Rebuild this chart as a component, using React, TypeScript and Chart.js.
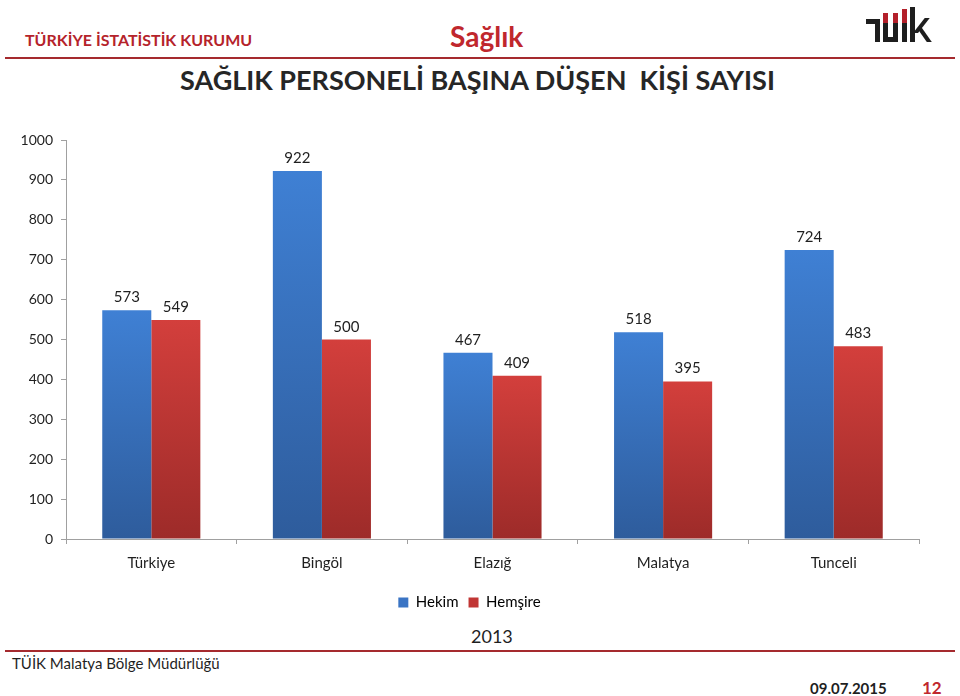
import React, { useEffect, useRef } from "react";
import { Chart, registerables } from "chart.js";

Chart.register(...registerables);

const categories = ["Türkiye", "Bingöl", "Elazığ", "Malatya", "Tunceli"];
const hekim = [573, 922, 467, 518, 724];
const hemsire = [549, 500, 409, 395, 483];
const seriesNames = ["Hekim", "Hemşire"];
const yTicks = [0, 100, 200, 300, 400, 500, 600, 700, 800, 900, 1000];

const FONT = "Lato, 'Open Sans', sans-serif";

function gradientFor(top: string, bottom: string) {
  return (ctx: any) => {
    const chart = ctx.chart;
    const y = chart.scales && chart.scales.y;
    if (!chart.chartArea || !y || ctx.raw == null) return top;
    const yTop = y.getPixelForValue(ctx.raw);
    const yBot = y.getPixelForValue(0);
    if (!isFinite(yTop) || !isFinite(yBot) || yTop === yBot) return top;
    const g = chart.ctx.createLinearGradient(0, yTop, 0, yBot);
    g.addColorStop(0, top);
    g.addColorStop(1, bottom);
    return g;
  };
}

const valueLabels = {
  id: "valueLabels",
  afterDatasetsDraw(chart: any) {
    const c = chart.ctx;
    c.save();
    c.font = `15px ${FONT}`;
    c.fillStyle = "#1f1f1f";
    c.textAlign = "center";
    c.textBaseline = "alphabetic";
    chart.data.datasets.forEach((ds: any, i: number) => {
      const meta = chart.getDatasetMeta(i);
      meta.data.forEach((el: any, j: number) => {
        c.fillText(String(ds.data[j]), el.x, el.y - 8);
      });
    });
    c.restore();
  },
};

function BarChart() {
  const ref = useRef<HTMLCanvasElement>(null);
  useEffect(() => {
    if (!ref.current) return;
    const chart = new Chart(ref.current, {
      type: "bar",
      data: {
        labels: categories,
        datasets: [
          {
            label: seriesNames[0],
            data: hekim,
            backgroundColor: gradientFor("#3f80d4", "#2e5c9c"),
            borderWidth: 0,
          },
          {
            label: seriesNames[1],
            data: hemsire,
            backgroundColor: gradientFor("#d33f3c", "#9d2b29"),
            borderWidth: 0,
          },
        ],
      },
      options: {
        animation: false,
        responsive: false,
        maintainAspectRatio: false,
        layout: { padding: { top: 20, right: 25, left: 20, bottom: 0 } },
        datasets: { bar: { categoryPercentage: 0.575, barPercentage: 1 } },
        plugins: {
          tooltip: { enabled: false },
          legend: {
            position: "bottom",
            labels: {
              boxWidth: 10,
              boxHeight: 10,
              padding: 10,
              color: "#1f1f1f",
              font: { family: FONT, size: 15 },
              generateLabels: () => [
                { text: seriesNames[0], fillStyle: "#3a74c4", strokeStyle: "#3a74c4", lineWidth: 0, datasetIndex: 0 },
                { text: seriesNames[1], fillStyle: "#c13634", strokeStyle: "#c13634", lineWidth: 0, datasetIndex: 1 },
              ],
            },
          },
        },
        scales: {
          x: {
            grid: { display: true, drawOnChartArea: false, drawTicks: true, tickLength: 5, color: "#a0a0a0", offset: true },
            border: { display: true, color: "#a0a0a0", width: 1 },
            ticks: { color: "#1f1f1f", font: { family: FONT, size: 15 }, padding: 10 },
            afterFit: (s: any) => { s.height = 46; },
          },
          y: {
            min: 0,
            max: 1000,
            afterBuildTicks: (s: any) => { s.ticks = yTicks.map((v) => ({ value: v })); },
            grid: { display: true, drawOnChartArea: false, drawTicks: true, tickLength: 5, color: "#a0a0a0" },
            border: { display: true, color: "#a0a0a0", width: 1 },
            ticks: { color: "#1f1f1f", font: { family: FONT, size: 14 }, padding: 8, callback: (v: any) => String(v) },
            afterFit: (s: any) => { s.width = 46; },
          },
        },
      },
      plugins: [valueLabels],
    });
    return () => chart.destroy();
  }, []);
  return <canvas ref={ref} width={944} height={500} style={{ position: "absolute", left: 0, top: 120, width: 944, height: 500 }} />;
}

function Logo() {
  const dark = "#1e1e1e";
  const red = "#b3202a";
  const bar = (l: number, t: number, w: number, h: number, c: string) => (
    <div style={{ position: "absolute", left: l, top: t, width: w, height: h, background: c }} />
  );
  return (
    <div style={{ position: "absolute", left: 0, top: 0 }}>
      {bar(866, 19, 14, 5, dark)}
      {bar(875, 19, 5, 23, dark)}
      {bar(883, 13, 5, 10, red)}
      {bar(883, 23, 5, 19, dark)}
      {bar(893, 13, 5, 10, red)}
      {bar(893, 23, 5, 19, dark)}
      {bar(883, 37, 15, 5, dark)}
      {bar(902, 9, 5, 14, red)}
      {bar(902, 23, 5, 19, dark)}
      {bar(910, 7, 5, 35, dark)}
      <div style={{ position: "absolute", left: 913, top: 18, width: 5, height: 15, background: dark, transform: "skewX(-38deg)", transformOrigin: "bottom left" }} />
      <div style={{ position: "absolute", left: 917, top: 28, width: 5, height: 14, background: dark, transform: "skewX(35deg)", transformOrigin: "top left" }} />
    </div>
  );
}

export default function App() {
  const txt = (s: React.CSSProperties): React.CSSProperties => ({ position: "absolute", fontFamily: FONT, whiteSpace: "nowrap", lineHeight: 1, ...s });
  return (
    <div style={{ position: "fixed", left: 0, top: 0, width: 960, height: 696, background: "#fff", overflow: "hidden" }}>
      <div style={txt({ left: 25, top: 32, fontSize: 16, fontWeight: 700, color: "#b5232b" })}>TÜRKİYE İSTATİSTİK KURUMU</div>
      <div style={txt({ left: 450, top: 22, fontSize: 28, fontWeight: 700, color: "#c0272d" })}>Sağlık</div>
      <Logo />
      <div style={{ position: "absolute", left: 5, top: 57, width: 950, height: 2, background: "#a52a2e" }} />
      <div style={txt({ left: 0, width: 955, textAlign: "center", top: 66, fontSize: 27, fontWeight: 700, color: "#262626" })}>SAĞLIK PERSONELİ BAŞINA DÜŞEN&nbsp; KİŞİ SAYISI</div>
      <BarChart />
      <div style={txt({ left: 471, top: 627, fontSize: 18, color: "#1f1f1f" })}>2013</div>
      <div style={{ position: "absolute", left: 5, top: 650, width: 950, height: 2, background: "#a52a2e" }} />
      <div style={txt({ left: 12, top: 656, fontSize: 15, color: "#1f1f1f" })}>TÜİK Malatya Bölge Müdürlüğü</div>
      <div style={txt({ left: 810, top: 681, fontSize: 15, fontWeight: 700, color: "#1f1f1f" })}>09.07.2015</div>
      <div style={txt({ left: 922, top: 679, fontSize: 17, fontWeight: 700, color: "#c0272d" })}>12</div>
    </div>
  );
}
